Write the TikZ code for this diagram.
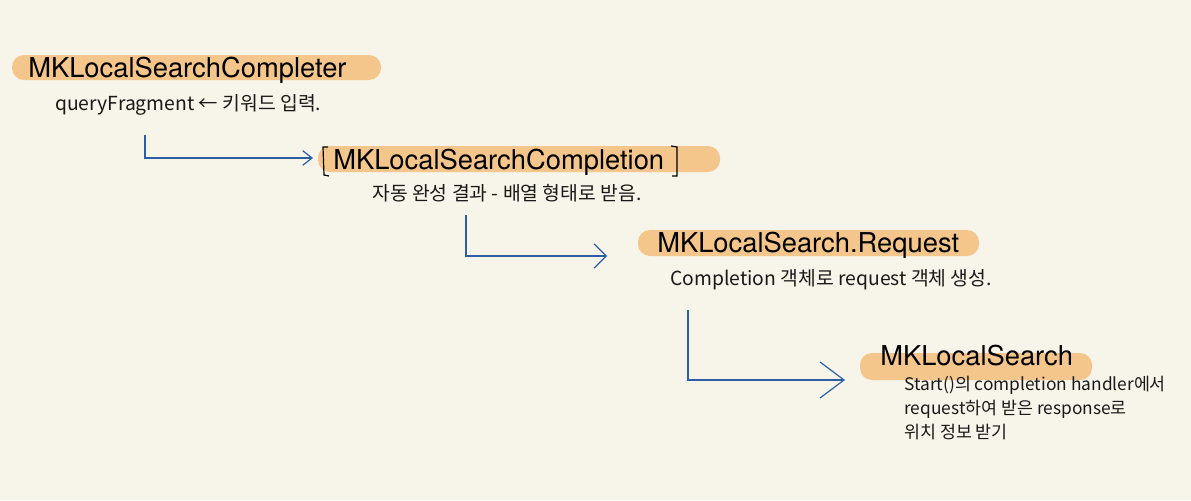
\documentclass[tikz,border=0pt]{standalone}
\usepackage{fontspec}
\setmainfont{TeX Gyre Heros}
\newfontfamily\hand{Noto Sans CJK KR}
\usetikzlibrary{arrows.meta}
\definecolor{paper}{HTML}{F7F4E9}
\definecolor{marker}{HTML}{F5C68C}
\definecolor{pen}{HTML}{2D5FA5}
\begin{document}
\begin{tikzpicture}[x=0.75pt,y=-0.75pt,
  title/.style={anchor=base west,inner sep=0pt,font=\fontsize{20.5}{24}\selectfont},
  note/.style={anchor=west,inner sep=0pt,align=left,font=\hand\fontsize{14.5}{18}\selectfont,text=black!90},
  flow/.style 2 args={draw=pen,line width=0.9pt,-{Straight Barb[length=#1,width=#2,line width=0.9pt]}}]
\fill[paper] (0,0) rectangle (1191,500);\useasboundingbox (0,0) rectangle (1191,500);
% highlighter bars
\foreach \xa/\ya/\xb/\yb in {12/55/381/80,318/146/720/172,638/230/979/256,860/353/1092/380}
  {\fill[marker,rounded corners=9pt] (\xa,\ya) rectangle (\xb,\yb);}
\node[title] (completer) at (28,77) {MKLocalSearchCompleter};
\node[note] (fragment) at (55,105) {queryFragment ← 키워드 입력.};
\node[title] (completion) at (333,169) {MKLocalSearchCompletion};
\draw[line width=0.9pt] (328,147)--(323,147)--(324,175)--(329,176);\draw[line width=0.9pt] (671,146)--(677,147)--(677,176)--(672,176);
\node[note] (results) at (372,193) {자동 완성 결과 - 배열 형태로 받음.};
\node[title] (request) at (657,252) {MKLocalSearch.Request};
\node[note] (make) at (670,280) {Completion 객체로 request 객체 생성.};
\node[title] (search) at (880,365) {MKLocalSearch};
\node[note,anchor=north west,font=\hand\fontsize{13}{18}\selectfont] (handler) at (904,376) {Start()의 completion handler에서\\ request하여 받은 response로\\ 위치 정보 받기};
% connectors
\coordinate (s1) at (145,135);\coordinate (e1) at (313,158);
\coordinate (s2) at (466,215);\coordinate (e2) at (607,256);
\coordinate (s3) at (688,310);\coordinate (e3) at (845,380);
\draw[flow={7pt}{11pt}] (s1) |- (e1);
\draw[flow={9pt}{18pt}] (s2) |- (e2);
\draw[flow={18pt}{27pt}] (s3) |- (e3);
\end{tikzpicture}
\end{document}
